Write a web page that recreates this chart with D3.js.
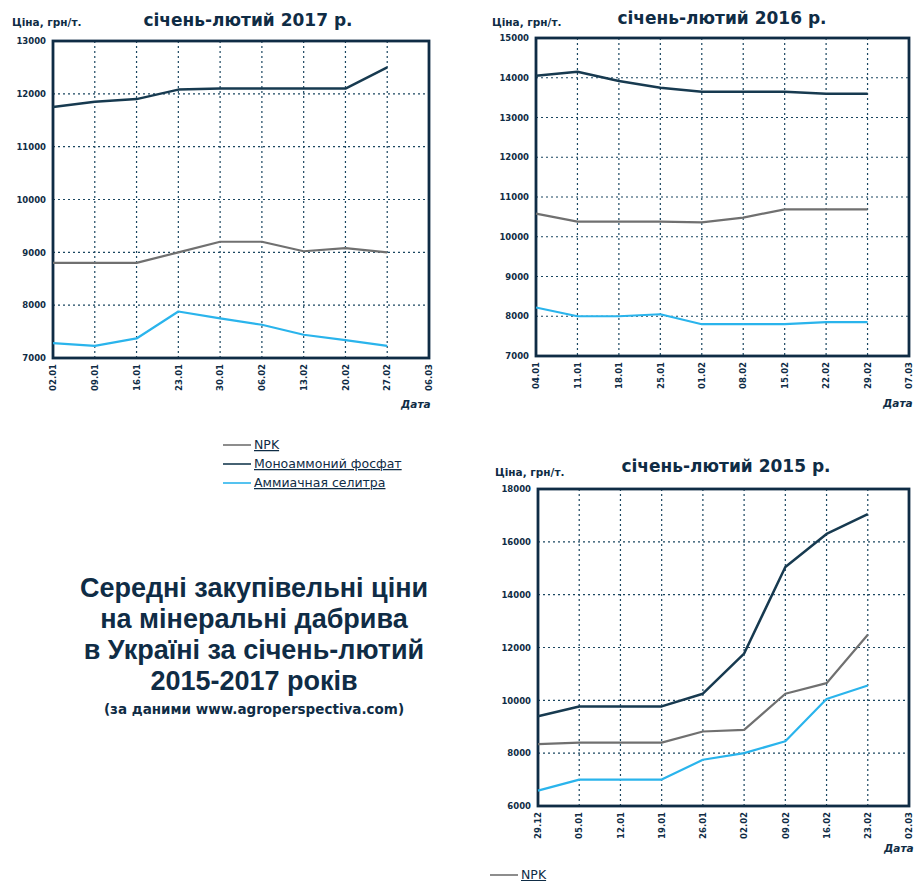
<!DOCTYPE html>
<html><head><meta charset="utf-8">
<script src="https://cdn.jsdelivr.net/npm/d3@7/dist/d3.min.js"></script>
<style>
html,body{margin:0;padding:0;background:#fff;}
svg{display:block;}
</style></head>
<body>
<svg id="c" width="915" height="881"></svg>
<script>
// ---- DATA ----
const seriesNames = ["NPK", "Моноаммоний фосфат", "Аммиачная селитра"];
const seriesColors = ["#707070", "#173a50", "#2ab4ec"];

const dates2017 = ["02.01","09.01","16.01","23.01","30.01","06.02","13.02","20.02","27.02","06.03"];
const npk2017 = [8800, 8800, 8800, 9000, 9200, 9200, 9020, 9080, 9000];
const map2017 = [11750, 11850, 11900, 12080, 12100, 12100, 12100, 12100, 12500];
const an2017  = [7280, 7230, 7370, 7880, 7750, 7630, 7440, 7340, 7230];
const yTicks2017 = [7000, 8000, 9000, 10000, 11000, 12000, 13000];

const dates2016 = ["04.01","11.01","18.01","25.01","01.02","08.02","15.02","22.02","29.02","07.03"];
const npk2016 = [10580, 10380, 10380, 10380, 10360, 10480, 10690, 10690, 10690];
const map2016 = [14050, 14150, 13920, 13750, 13650, 13650, 13650, 13600, 13600];
const an2016  = [8220, 8000, 8000, 8050, 7800, 7800, 7800, 7850, 7850];
const yTicks2016 = [7000, 8000, 9000, 10000, 11000, 12000, 13000, 14000, 15000];

const dates2015 = ["29.12","05.01","12.01","19.01","26.01","02.02","09.02","16.02","23.02","02.03"];
const npk2015 = [8340, 8400, 8400, 8400, 8820, 8880, 10250, 10650, 12480];
const map2015 = [9400, 9770, 9770, 9770, 10250, 11770, 15050, 16300, 17050];
const an2015  = [6580, 7000, 7000, 7000, 7750, 8000, 8450, 10050, 10560];
const yTicks2015 = [6000, 8000, 10000, 12000, 14000, 16000, 18000];

const chartTitles = ["січень-лютий 2017 р.", "січень-лютий 2016 р.", "січень-лютий 2015 р."];
const yAxisTitle = "Ціна, грн/т.";
const xAxisTitle = "Дата";
const mainTitle = ["Середні закупівельні ціни", "на мінеральні дабрива", "в Україні за січень-лютий", "2015-2017 років"];
const subTitle = "(за даними www.agroperspectiva.com)";

// ---- DRAW ----
const svg = d3.select("#c");
const NAVY = "#0f2c45";

function drawChart(cfg){
  const g = svg.append("g");
  const x = d3.scaleLinear().domain([0, cfg.dates.length - 1]).range([cfg.left, cfg.right]);
  const y = d3.scaleLinear().domain([cfg.yTicks[0], cfg.yTicks[cfg.yTicks.length-1]]).range([cfg.bottom, cfg.top]);

  // grid
  g.append("g").selectAll("line").data(d3.range(cfg.dates.length)).join("line")
    .attr("x1", d=>x(d)).attr("x2", d=>x(d)).attr("y1", cfg.top).attr("y2", cfg.bottom)
    .attr("stroke", "#1a4660").attr("stroke-width", 1.2).attr("stroke-dasharray", "2,3");
  g.append("g").selectAll("line").data(cfg.yTicks).join("line")
    .attr("x1", cfg.left).attr("x2", cfg.right).attr("y1", d=>y(d)).attr("y2", d=>y(d))
    .attr("stroke", "#1a4660").attr("stroke-width", 1.2).attr("stroke-dasharray", "2,3");

  // axes with d3
  const yAxis = d3.axisLeft(y).tickValues(cfg.yTicks).tickSize(0).tickPadding(7).tickFormat(d3.format("d"));
  const ya = g.append("g").attr("transform", `translate(${cfg.left},0)`).call(yAxis);
  ya.select(".domain").remove();
  ya.selectAll("text").attr("font-family","DejaVu Sans").attr("font-weight","bold").attr("font-size", 8.5).attr("fill", NAVY);

  const xAxis = d3.axisBottom(x).tickValues(d3.range(cfg.dates.length)).tickSize(0).tickFormat(i=>cfg.dates[i]);
  const xa = g.append("g").attr("transform", `translate(0,${cfg.bottom})`).call(xAxis);
  xa.select(".domain").remove();
  xa.selectAll(".tick text").attr("font-family","DejaVu Sans").attr("font-weight","bold").attr("font-size", 8.5).attr("fill", NAVY)
    .attr("transform","rotate(-90)").attr("text-anchor","end").attr("dy","0.32em").attr("x", -6).attr("y", 0);

  // border
  g.append("rect").attr("x", cfg.left).attr("y", cfg.top).attr("width", cfg.right - cfg.left).attr("height", cfg.bottom - cfg.top)
    .attr("fill","none").attr("stroke", NAVY).attr("stroke-width", 2.8);

  // lines
  const line = d3.line().x((d,i)=>x(i)).y(d=>y(d));
  cfg.series.forEach((s, k)=>{
    g.append("path").datum(s).attr("d", line).attr("fill","none")
      .attr("stroke", seriesColors[k]).attr("stroke-width", k===1 ? 2.5 : 2.2).attr("stroke-linejoin","round");
  });

  // titles
  g.append("text").attr("x", cfg.titleX).attr("y", cfg.titleY).attr("text-anchor","middle")
    .attr("font-family","DejaVu Sans").attr("font-weight","bold").attr("font-size", 17).attr("fill", NAVY).text(cfg.title);
  g.append("text").attr("x", cfg.yTitleX).attr("y", cfg.yTitleY)
    .attr("font-family","DejaVu Sans").attr("font-weight","bold").attr("font-size", 10.5).attr("fill", NAVY).text(yAxisTitle);
  g.append("text").attr("x", cfg.xTitleX).attr("y", cfg.xTitleY)
    .attr("font-family","DejaVu Sans").attr("font-weight","bold").attr("font-style","italic").attr("font-size", 10.5).attr("fill", NAVY).text(xAxisTitle);
}

drawChart({dates: dates2017, yTicks: yTicks2017, series:[npk2017, map2017, an2017],
  left:53, right:429, top:41, bottom:358, title: chartTitles[0], titleX:248, titleY:26,
  yTitleX:12, yTitleY:26, xTitleX:401, xTitleY:408});
drawChart({dates: dates2016, yTicks: yTicks2016, series:[npk2016, map2016, an2016],
  left:536, right:909, top:38, bottom:356, title: chartTitles[1], titleX:722, titleY:24,
  yTitleX:492, yTitleY:26, xTitleX:883, xTitleY:407});
drawChart({dates: dates2015, yTicks: yTicks2015, series:[npk2015, map2015, an2015],
  left:538, right:909, top:489, bottom:806, title: chartTitles[2], titleX:726, titleY:472,
  yTitleX:495, yTitleY:476, xTitleX:884, xTitleY:852});

// legends
function legend(x0, y0, names){
  const lg = svg.append("g");
  names.forEach((n,i)=>{
    const yy = y0 + i*19;
    lg.append("line").attr("x1", x0).attr("x2", x0+28).attr("y1", yy).attr("y2", yy)
      .attr("stroke", seriesColors[i]).attr("stroke-width", 1.6);
    lg.append("text").attr("x", x0+31).attr("y", yy+4)
      .attr("font-family","DejaVu Sans").attr("font-size", 12.5).attr("fill", NAVY)
      .attr("text-decoration","underline").text(n);
  });
}
legend(223, 445, seriesNames);
legend(490, 875, seriesNames.slice(0,1));

// main title
const mt = svg.append("g");
mainTitle.forEach((t,i)=>{
  mt.append("text").attr("x", 254).attr("y", 597 + i*31).attr("text-anchor","middle")
    .attr("font-family","Liberation Sans, Arial").attr("font-weight","bold").attr("font-size", 27).attr("fill", NAVY).text(t);
});
mt.append("text").attr("x", 254).attr("y", 714).attr("text-anchor","middle")
  .attr("font-family","DejaVu Sans").attr("font-weight","bold").attr("font-size", 13.5).attr("fill", NAVY).text(subTitle);
</script>
</body></html>
